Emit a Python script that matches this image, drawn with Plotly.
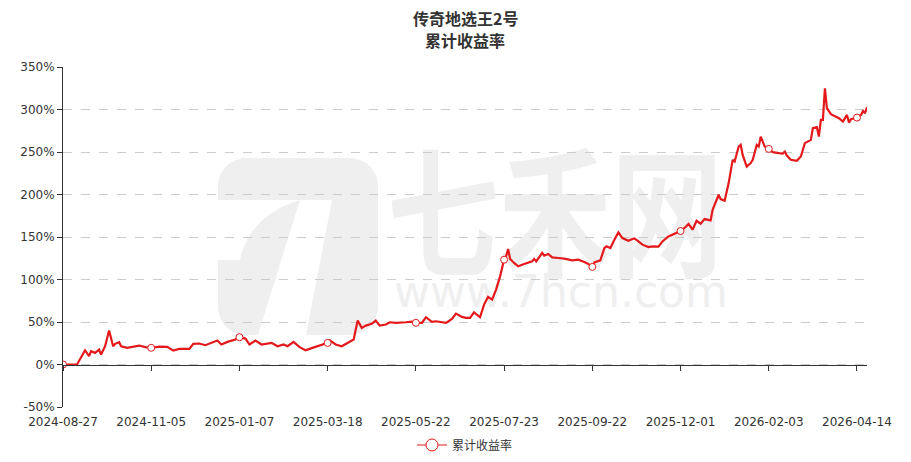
import base64
import plotly.graph_objects as go

# ---- data ----
tick_labels = ["2024-08-27", "2024-11-05", "2025-01-07", "2025-03-18", "2025-05-22",
               "2025-07-23", "2025-09-22", "2025-12-01", "2026-02-03", "2026-04-14"]
tick_step = 44          # trading days between labelled dates
n_points = 402          # total trading days in the series

# sampled trading-day index and cumulative return (%)
day_idx = [0, 7, 11, 13, 14, 16, 18, 19, 21, 23, 25, 26, 28, 29, 32, 38, 41, 44, 48, 52,
           55, 58, 63, 65, 68, 71, 77, 79, 82, 86, 88, 91, 93, 96, 99, 104, 107, 110, 112,
           115, 118, 121, 123, 127, 129, 132, 133, 136, 139, 142, 145, 146, 147, 149, 151,
           154, 156, 158, 161, 163, 166, 171, 174, 176, 179, 181, 184, 186, 191, 194, 196,
           199, 201, 203, 205, 208, 210, 212, 214, 216, 218, 220, 221, 222, 223, 225, 227,
           230, 234, 235, 236, 239, 240, 242, 244, 247, 250, 254, 257, 260, 262, 264, 265,
           268, 270, 271, 273, 275, 277, 279, 282, 284, 285, 287, 289, 292, 294, 297, 299,
           302, 304, 308, 310, 312, 314, 316, 318, 320, 323, 324, 327, 328, 330, 332, 334,
           335, 337, 338, 339, 341, 343, 344, 346, 347, 348, 350, 352, 354, 357, 359, 360,
           361, 363, 366, 368, 370, 373, 374, 376, 377, 378, 379, 380, 381, 383, 387, 389,
           391, 392, 393, 396, 398, 399, 400, 401]
cum_return = [0, 0, 16.8, 9.8, 15.6, 13.7, 17.6, 11.7, 21.5, 40.0, 21.5, 24.3, 26.2, 21.5,
              19.6, 22.3, 20.4, 19.6, 21.1, 20.8, 16.4, 18.4, 18.4, 24.3, 24.7, 22.7, 28.2,
              23.5, 26.6, 29.4, 32.1, 30.5, 23.5, 28.2, 23.5, 25.4, 21.5, 23.5, 21.5, 26.6,
              20.4, 16.8, 18.4, 21.5, 22.7, 25.4, 28.5, 23.5, 21.5, 25.4, 29.4, 41.1, 51.7,
              43.1, 45.8, 47.8, 51.7, 45.8, 47.0, 49.7, 49.0, 49.7, 50.5, 49.0, 49.0, 55.6,
              50.1, 50.9, 49.0, 53.7, 59.9, 56.0, 54.8, 54.8, 61.4, 55.6, 70.5, 79.5, 76.3,
              88.1, 103.7, 123.3, 127.2, 135.9, 124.2, 119.5, 115.5, 118.3, 121.3, 124.2,
              121.3, 131.2, 128.0, 130.0, 126.0, 125.3, 124.5, 122.5, 123.3, 120.6, 118.3,
              114.8, 120.2, 122.5, 137.0, 139.0, 137.0, 146.8, 155.4, 148.8, 145.6, 147.6,
              148.4, 144.8, 141.0, 138.2, 139.0, 138.6, 144.8, 150.7, 152.7, 157.0, 160.6,
              165.3, 158.6, 169.1, 165.6, 171.1, 169.5, 182.0, 199.7, 194.6, 192.6, 213.4,
              240.8, 238.8, 256.4, 258.4, 246.6, 232.9, 236.9, 240.8, 258.4, 256.4, 268.1,
              256.4, 253.7, 249.8, 248.6, 248.2, 250.5, 245.8, 240.8, 239.6, 244.7, 260.4,
              264.3, 278.0, 279.2, 268.1, 287.8, 287.8, 325.0, 301.5, 294.5, 289.8, 285.8,
              293.6, 284.6, 288.6, 290.5, 293.6, 298.3, 295.6, 302.7]

y_ticks = [-50, 0, 50, 100, 150, 200, 250, 300, 350]
series_name = "累计收益率"
title_lines = ["传奇地选王2号", "累计收益率"]

# ---- styling ----
RED = "#e3191b"
TXT = "#333333"
W, H = 911, 462
ML, MR, MT, MB = 63, 44, 67, 55
PW, PH = W - ML - MR, H - MT - MB

tick_pos = [i * tick_step for i in range(len(tick_labels))]
mk_x = [x for x in day_idx if x % tick_step == 0]
mk_y = [v for x, v in zip(day_idx, cum_return) if x % tick_step == 0]

fig = go.Figure()
fig.add_trace(go.Scatter(x=day_idx, y=cum_return, mode="lines", showlegend=False,
                         line=dict(color=RED, width=2.2), hoverinfo="skip"))
fig.add_trace(go.Scatter(x=mk_x, y=mk_y, mode="markers", showlegend=False,
                         marker=dict(symbol="circle", size=7, color="white",
                                     line=dict(color=RED, width=1)), hoverinfo="skip"))
fig.add_trace(go.Scatter(x=[None], y=[None], mode="lines+markers", name=series_name,
                         line=dict(color=RED, width=1),
                         marker=dict(symbol="circle", size=12, color="white",
                                     line=dict(color=RED, width=1))))
# helper axis carrying the zero line with category ticks
fig.add_trace(go.Scatter(x=[None], y=[None], xaxis="x2", showlegend=False))

# watermark as an SVG image placed below the plot
svg = f'''<svg xmlns="http://www.w3.org/2000/svg" width="{W}" height="{H}" viewBox="0 0 {W} {H}">
<rect x="218" y="158" width="160" height="177" rx="28" ry="28" fill="#efefef"/>
<path d="M218 200 L300 200 Q250 215 240 260 L218 260 Z" fill="#ffffff"/>
<path d="M300 200 L332 200 L306 335 L258 335 Z" fill="#ffffff"/>
<text x="0" y="0" transform="translate(555 266) scale(0.8 1)" font-family="Noto Sans CJK SC"
 font-weight="bold" font-size="140" fill="#efefef" text-anchor="middle">七禾网</text>
<text x="561" y="307" font-family="DejaVu Sans" font-size="44"
 fill="#efefef" text-anchor="middle">www.7hcn.com</text>
</svg>'''
src = "data:image/svg+xml;base64," + base64.b64encode(svg.encode("utf-8")).decode()

title_ann = [dict(text="<b>" + t + "</b>", xref="paper", yref="paper", x=0.5,
                  y=1 + (MT - cy) / PH, xanchor="center", yanchor="middle",
                  showarrow=False, font=dict(family="Noto Sans CJK SC", size=16, color=TXT))
             for t, cy in zip(title_lines, [18, 40])]

fig.update_layout(
    width=W, height=H,
    margin=dict(l=ML, r=MR, t=MT, b=MB, autoexpand=False),
    paper_bgcolor="white", plot_bgcolor="rgba(0,0,0,0)",
    font=dict(family="DejaVu Sans", size=12, color=TXT),
    annotations=title_ann,
    xaxis=dict(range=[0, n_points - 1], tickmode="array", tickvals=tick_pos,
               ticktext=tick_labels, showgrid=False, zeroline=False, showline=False,
               ticks="", automargin=False, ticklabelstandoff=6,
               tickfont=dict(family="DejaVu Sans", size=12, color=TXT)),
    xaxis2=dict(range=[0, n_points - 1], overlaying="x", anchor="free",
                position=(0 - y_ticks[0]) / (y_ticks[-1] - y_ticks[0]),
                tickmode="array", tickvals=tick_pos, showticklabels=False,
                ticks="outside", ticklen=5, tickcolor=TXT, showline=True, automargin=False,
                linecolor=TXT, linewidth=1, showgrid=False, zeroline=False),
    yaxis=dict(range=[y_ticks[0], y_ticks[-1]], tickmode="array", tickvals=y_ticks,
               ticktext=[f"{v}%" for v in y_ticks], showgrid=True, gridcolor="#cccccc",
               griddash="dash", gridwidth=1, zeroline=False, showline=True, automargin=False,
               linecolor=TXT, linewidth=1, ticks="outside", ticklen=5, tickcolor=TXT,
               tickfont=dict(family="DejaVu Sans", size=12, color=TXT)),
    legend=dict(orientation="h", x=0.5, xanchor="center", y=-(445 - (H - MB)) / PH,
                yanchor="middle",
                font=dict(family="Noto Sans CJK SC", size=12, color=TXT),
                bgcolor="rgba(0,0,0,0)"),
    images=[dict(source=src, xref="paper", yref="paper",
                 x=-ML / PW, y=1 + MT / PH, sizex=W / PW, sizey=H / PH,
                 xanchor="left", yanchor="top", sizing="stretch", layer="below")],
)

fig.write_html("out.html", config={"displayModeBar": False},
               post_script="document.body.style.margin='0';document.body.style.overflow='hidden';")
